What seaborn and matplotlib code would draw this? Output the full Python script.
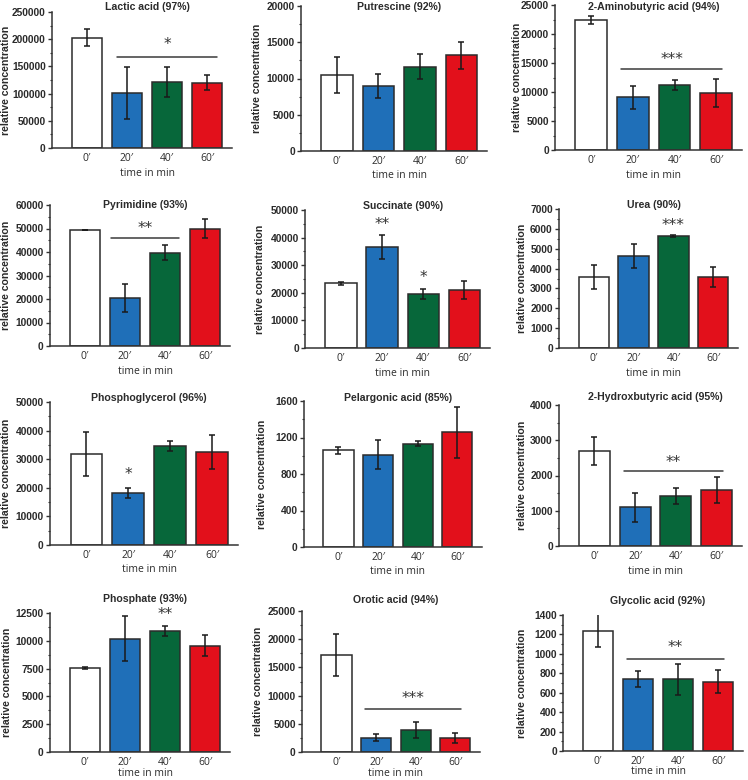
import numpy as np
import pandas as pd
import matplotlib
matplotlib.use("Agg")
import matplotlib.pyplot as plt
import seaborn as sns
from matplotlib.ticker import MultipleLocator, AutoMinorLocator
from matplotlib.transforms import blended_transform_factory

# ---------------- data ----------------
times = ["0\u2032", "20\u2032", "40\u2032", "60\u2032"]
titles = ["Lactic acid (97%)", "Putrescine (92%)", "2-Aminobutyric acid (94%)",
          "Pyrimidine (93%)", "Succinate (90%)", "Urea (90%)",
          "Phosphoglycerol (96%)", "Pelargonic acid (85%)", "2-Hydroxbutyric acid (95%)",
          "Phosphate (93%)", "Orotic acid (94%)", "Glycolic acid (92%)"]
lactic = [203000, 101000, 121000, 120000]
lactic_err = [15000, 47000, 27000, 14000]
putrescine = [10500, 9000, 11650, 13200]
putrescine_err = [2500, 1650, 1700, 1900]
aminobutyric = [22400, 9100, 11250, 9800]
aminobutyric_err = [700, 2000, 900, 2400]
pyrimidine = [49300, 20500, 39700, 49900]
pyrimidine_err = [150, 6000, 3200, 4000]
succinate = [23400, 36700, 19600, 21000]
succinate_err = [400, 4400, 1900, 3100]
urea = [3570, 4640, 5645, 3570]
urea_err = [600, 590, 40, 520]
phosphoglycerol = [31900, 18250, 34600, 32500]
phosphoglycerol_err = [7700, 1850, 1800, 5900]
pelargonic = [1060, 1010, 1133, 1255]
pelargonic_err = [36, 160, 25, 280]
hydroxybutyric = [2700, 1100, 1420, 1590]
hydroxybutyric_err = [400, 410, 235, 360]
phosphate = [7550, 10200, 10870, 9570]
phosphate_err = [90, 2050, 480, 940]
orotic = [17200, 2520, 3850, 2520]
orotic_err = [3800, 590, 1450, 880]
glycolic = [1238, 743, 740, 714]
glycolic_err = [170, 84, 160, 116]

means = [lactic, putrescine, aminobutyric, pyrimidine, succinate, urea,
         phosphoglycerol, pelargonic, hydroxybutyric, phosphate, orotic, glycolic]
errors = [lactic_err, putrescine_err, aminobutyric_err, pyrimidine_err, succinate_err, urea_err,
          phosphoglycerol_err, pelargonic_err, hydroxybutyric_err, phosphate_err, orotic_err, glycolic_err]
y_max = [250000, 20000, 25000, 60000, 50000, 7000, 50000, 1600, 4000, 12500, 25000, 1400]
y_step = [50000, 5000, 5000, 10000, 10000, 1000, 10000, 400, 1000, 2500, 5000, 200]

# significance marks: (panel, x_start, x_end, line_value or None, star_value, stars)
significance = [
    (0, 0.75, 3.25, 167000, 190000, "*"),
    (2, 0.72, 3.15, 14000, 15600, "***"),
    (3, 0.65, 2.35, 46000, 49800, "**"),
    (4, 1, 1, None, 44600, "**"),
    (4, 2, 2, None, 25700, "*"),
    (5, 2, 2, None, 6190, "***"),
    (6, 1, 1, None, 24800, "*"),
    (8, 0.72, 3.15, 2136, 2370, "**"),
    (9, 2, 2, None, 12400, "**"),
    (10, 0.72, 3.15, 7570, 9500, "***"),
    (11, 0.72, 3.15, 950, 1065, "**"),
]

colors = ["#ffffff", "#1f6fb8", "#07673a", "#e2101b"]

# ---------------- layout (pixels) ----------------
W, H = 748, 780
boxes = [(52, 12, 232, 148), (301, 6, 487, 151), (555, 5, 742, 150),
         (50, 205, 230, 346), (305, 210, 490, 348), (559, 209, 738, 348),
         (50, 402, 238, 545), (304, 401, 482, 547), (559, 405, 742, 546),
         (50, 613, 230, 752), (302, 611, 480, 752), (563, 615, 743, 751)]
ylabel_px = [6, 257, 517, 6, 260, 522, 6, 262, 522, 7, 258, 522]
title_px = [7, 7, 7, 205, 206, 205, 398, 398, 397, 599, 600, 601]
xlabel_gap = [25, 25, 25, 25, 25, 25, 25, 25, 25, 21, 21, 21]

sns.set_theme(style="white")
plt.rcParams['font.family'] = ['Liberation Sans', 'DejaVu Sans']

fig = plt.figure(figsize=(W / 100, H / 100), dpi=100)
dark = "#2b2b2b"

for i in range(12):
    l, t, r, b = boxes[i]
    ax = fig.add_axes([l / W, 1 - b / H, (r - l) / W, (b - t) / H])
    df = pd.DataFrame({"time": times, "value": means[i]})
    sns.barplot(data=df, x="time", y="value", hue="time", palette=colors,
                order=times, hue_order=times, legend=False, width=0.76, saturation=1,
                edgecolor=dark, linewidth=1.1, errorbar=None, ax=ax)
    ax.errorbar(np.arange(4), means[i], yerr=errors[i], fmt="none",
                ecolor="#1a1a1a", elinewidth=1.1, capsize=2.2, capthick=1.1, zorder=5)
    ax.set_xlim(-0.87, 3.62)
    ax.set_ylim(0, y_max[i])
    ax.yaxis.set_major_locator(MultipleLocator(y_step[i]))
    ax.yaxis.set_minor_locator(AutoMinorLocator(2))
    for s in ["top", "right"]:
        ax.spines[s].set_visible(False)
    for s in ["left", "bottom"]:
        ax.spines[s].set_color("#333333")
        ax.spines[s].set_linewidth(1.1)
    ax.tick_params(axis="y", which="major", length=3, width=1.0, color="#333333",
                   labelsize=7.4, labelcolor=dark, pad=1.5, left=True)
    ax.tick_params(axis="y", which="minor", length=1.8, width=0.8, color="#333333", left=True)
    ax.tick_params(axis="x", length=0, pad=3.5)
    for lab in ax.get_yticklabels():
        lab.set_fontweight("bold")
    ax.set_xticks(range(4))
    ax.set_xticklabels(times, family=["Open Sans", "DejaVu Sans"], fontsize=7.4, color=dark)
    ax.set_ylabel("relative concentration", fontsize=7.6, fontweight="bold", color=dark)
    ax.yaxis.label.set_va("center")
    ax.yaxis.set_label_coords((ylabel_px[i] - l) / (r - l), 0.5)
    ax.set_xlabel("time in min", family=["Open Sans", "DejaVu Sans"], fontsize=7.5, color=dark)
    trx = blended_transform_factory(ax.transData, ax.transAxes)
    ax.xaxis.set_label_coords(1.5, -xlabel_gap[i] / (b - t), transform=trx)
    ax.xaxis.label.set_va("center")
    ax.text(1.5, 1 + (t - title_px[i]) / (b - t), titles[i], transform=trx,
            ha="center", va="center", fontsize=7.6, fontweight="bold", color=dark)
    ax.grid(False)

axes = fig.axes
for (p, x0, x1, yl, ys, txt) in significance:
    ax = axes[p]
    if yl is not None:
        ax.plot([x0, x1], [yl, yl], color="#3a3a3a", lw=1.1, clip_on=False)
    ax.text((x0 + x1) / 2, ys, txt, ha="center", va="center", fontsize=11,
            family=["DejaVu Sans"], color="#333333", clip_on=False)

fig.savefig("out.png", dpi=100)
